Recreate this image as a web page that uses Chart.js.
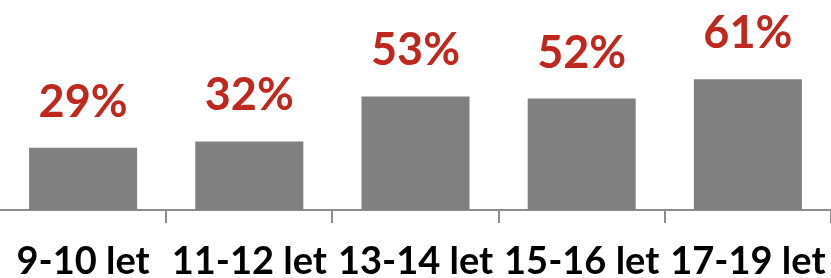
<!DOCTYPE html>
<html>
<head>
<meta charset="utf-8">
<script src="https://cdn.jsdelivr.net/npm/chart.js@4/dist/chart.umd.min.js"></script>
<style>
  html, body { margin: 0; padding: 0; background: #fff; }
  #wrap { width: 831px; height: 278px; position: relative; }
</style>
</head>
<body>
<div id="wrap"><canvas id="chart"></canvas></div>
<script>
// data
var categories = ["9-10 let", "11-12 let", "13-14 let", "15-16 let", "17-19 let"];
var shares = [29, 32, 53, 52, 61];
var shareLabels = ["29%", "32%", "53%", "52%", "61%"];

// percentage above each bar, placed from the bar element itself
var valueLabels = {
    id: "valueLabels",
    afterDatasetsDraw: function (chart) {
        var ctx = chart.ctx;
        var meta = chart.getDatasetMeta(0);
        ctx.save();
        ctx.font = "bold 45px Lato";
        ctx.fillStyle = "#c0281f";
        ctx.textAlign = "center";
        ctx.textBaseline = "alphabetic";
        meta.data.forEach(function (bar, i) {
            ctx.fillText(shareLabels[i], bar.x, bar.y - 31);
        });
        ctx.restore();
    }
};

new Chart(document.getElementById("chart"), {
    type: "bar",
    data: {
        labels: categories,
        datasets: [
            {
                label: "",
                data: shares,
                backgroundColor: "#808080",
                borderWidth: 0,
                categoryPercentage: 0.65,
                barPercentage: 1
            }
        ]
    },
    options: {
        responsive: true,
        maintainAspectRatio: false,
        animation: false,
        layout: { padding: 0 },
        plugins: {
            legend: { display: false },
            tooltip: { enabled: false }
        },
        scales: {
            x: {
                afterFit: function (scale) {
                    scale.height = 68;
                    // labels may run to the canvas edge, keep full width
                    scale.paddingLeft = 0;
                    scale.paddingRight = 0;
                },
                grid: {
                    display: true,
                    drawOnChartArea: false,
                    drawTicks: true,
                    tickLength: 13,
                    lineWidth: 2,
                    color: function (ctx) {
                        // no tick at the two outer edges
                        return (ctx.index === 0 || ctx.index === categories.length) ? "rgba(0,0,0,0)" : "#8c8c8c";
                    }
                },
                border: { display: true, color: "#8c8c8c", width: 2 },
                ticks: {
                    color: "#000",
                    padding: 20,
                    maxRotation: 0,
                    autoSkip: false,
                    font: { family: "Lato", size: 38, weight: "bold", lineHeight: 1 }
                }
            },
            y: {
                display: false,
                min: 0,
                max: 98
            }
        }
    },
    plugins: [valueLabels]
});
</script>
</body>
</html>
